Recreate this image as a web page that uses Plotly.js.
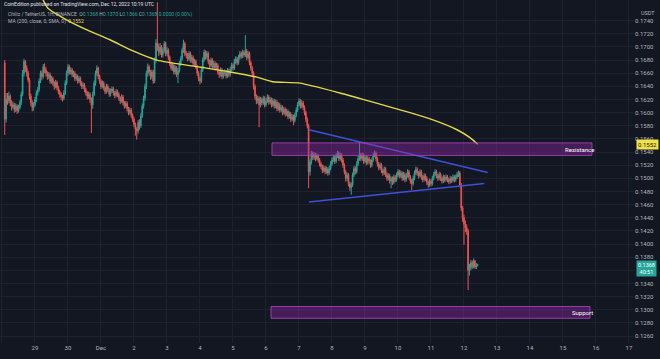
<!DOCTYPE html>
<html><head><meta charset="utf-8">
<script src="https://cdn.plot.ly/plotly-3.0.1.min.js"></script>
<style>html,body{margin:0;padding:0;background:#131722;}#chart{width:660px;height:359px;}</style>
</head><body><div id="chart"></div>
<script>
// ---- data (1H candles, Chiliz / TetherUS, Binance) ----
const firstCandleUTC = Date.UTC(2022, 10, 28, 2, 0);
const firstOpen = 0.1676;
const closes = [
0.1590,0.1620,0.1618,0.1625,0.1615,0.1609,0.1612,0.1605,0.1610,0.1603,0.1608,0.1615,
0.1628,0.1660,0.1678,0.1668,0.1660,0.1650,0.1625,0.1615,0.1608,0.1612,0.1620,0.1630,
0.1635,0.1648,0.1660,0.1655,0.1670,0.1665,0.1660,0.1655,0.1658,0.1648,0.1652,0.1645,
0.1640,0.1646,0.1638,0.1632,0.1628,0.1624,0.1622,0.1630,0.1645,0.1660,0.1670,0.1662,
0.1665,0.1658,0.1660,0.1652,0.1655,0.1648,0.1652,0.1645,0.1640,0.1642,0.1635,0.1630,
0.1625,0.1628,0.1620,0.1612,0.1628,0.1645,0.1660,0.1668,0.1655,0.1648,0.1640,0.1645,
0.1638,0.1632,0.1640,0.1635,0.1628,0.1633,0.1636,0.1630,0.1626,0.1632,0.1628,0.1622,
0.1618,0.1624,0.1615,0.1610,0.1614,0.1606,0.1600,0.1604,0.1596,0.1590,0.1582,0.1575,
0.1572,0.1585,0.1580,0.1595,0.1610,0.1622,0.1640,0.1660,0.1670,0.1662,0.1655,0.1662,
0.1648,0.1680,0.1706,0.1700,0.1692,0.1700,0.1688,0.1695,0.1705,0.1690,0.1695,0.1684,
0.1675,0.1668,0.1672,0.1662,0.1668,0.1658,0.1664,0.1675,0.1682,0.1695,0.1705,0.1690,
0.1688,0.1682,0.1690,0.1680,0.1684,0.1675,0.1678,0.1670,0.1660,0.1652,0.1648,0.1665,
0.1680,0.1692,0.1685,0.1690,0.1678,0.1672,0.1680,0.1670,0.1675,0.1668,0.1672,0.1662,
0.1658,0.1665,0.1655,0.1660,0.1662,0.1656,0.1664,0.1658,0.1666,0.1672,0.1668,0.1678,
0.1682,0.1676,0.1684,0.1690,0.1686,0.1692,0.1688,0.1694,0.1684,0.1690,0.1676,0.1668,
0.1660,0.1640,0.1625,0.1618,0.1622,0.1612,0.1620,0.1615,0.1622,0.1612,0.1618,0.1624,
0.1616,0.1620,0.1612,0.1618,0.1610,0.1616,0.1606,0.1612,0.1604,0.1608,0.1600,0.1605,
0.1598,0.1602,0.1594,0.1598,0.1590,0.1594,0.1588,0.1596,0.1604,0.1612,0.1618,0.1610,
0.1615,0.1608,0.1600,0.1590,0.1580,0.1510,0.1525,0.1538,0.1532,0.1536,0.1530,0.1534,
0.1528,0.1522,0.1518,0.1512,0.1516,0.1510,0.1514,0.1508,0.1515,0.1522,0.1528,0.1532,
0.1526,0.1534,0.1538,0.1530,0.1535,0.1528,0.1520,0.1510,0.1500,0.1505,0.1492,0.1486,
0.1490,0.1505,0.1515,0.1510,0.1522,0.1530,0.1536,0.1530,0.1535,0.1526,0.1532,0.1524,
0.1530,0.1526,0.1520,0.1528,0.1535,0.1538,0.1530,0.1522,0.1516,0.1520,0.1512,0.1508,
0.1514,0.1506,0.1500,0.1504,0.1496,0.1500,0.1494,0.1502,0.1498,0.1505,0.1510,0.1504,
0.1508,0.1500,0.1506,0.1498,0.1504,0.1510,0.1502,0.1496,0.1492,0.1500,0.1508,0.1514,
0.1508,0.1504,0.1510,0.1502,0.1498,0.1504,0.1500,0.1494,0.1490,0.1496,0.1492,0.1500,
0.1506,0.1510,0.1504,0.1500,0.1506,0.1500,0.1496,0.1502,0.1498,0.1502,0.1498,0.1495,
0.1500,0.1497,0.1502,0.1498,0.1502,0.1506,0.1508,0.1490,0.1455,0.1440,0.1430,0.1425,
0.1420,0.1360,0.1364,0.1372,0.1366,0.1374,0.1365,0.1368,0.1368
];
const highs = [
0.1680,0.1630,0.1630,0.1632,0.1628,0.1619,0.1617,0.1615,0.1614,0.1613,0.1612,0.1619,
0.1632,0.1665,0.1682,0.1680,0.1672,0.1664,0.1653,0.1629,0.1619,0.1616,0.1624,0.1634,
0.1639,0.1652,0.1664,0.1664,0.1674,0.1675,0.1669,0.1663,0.1662,0.1661,0.1656,0.1655,
0.1648,0.1650,0.1649,0.1641,0.1635,0.1631,0.1627,0.1634,0.1649,0.1664,0.1674,0.1673,
0.1669,0.1668,0.1664,0.1663,0.1659,0.1658,0.1656,0.1655,0.1648,0.1646,0.1645,0.1638,
0.1633,0.1632,0.1631,0.1623,0.1632,0.1649,0.1664,0.1672,0.1670,0.1658,0.1651,0.1649,
0.1648,0.1641,0.1644,0.1643,0.1638,0.1637,0.1640,0.1639,0.1633,0.1636,0.1635,0.1631,
0.1625,0.1628,0.1627,0.1618,0.1618,0.1617,0.1609,0.1608,0.1607,0.1599,0.1593,0.1585,
0.1578,0.1589,0.1590,0.1599,0.1614,0.1626,0.1644,0.1664,0.1675,0.1673,0.1665,0.1666,
0.1665,0.1684,0.1712,0.1768,0.1705,0.1706,0.1703,0.1699,0.1709,0.1708,0.1700,0.1698,
0.1687,0.1678,0.1676,0.1675,0.1672,0.1671,0.1668,0.1679,0.1686,0.1699,0.1711,0.1708,
0.1694,0.1691,0.1694,0.1693,0.1688,0.1687,0.1682,0.1681,0.1673,0.1663,0.1655,0.1669,
0.1684,0.1696,0.1695,0.1694,0.1693,0.1681,0.1684,0.1683,0.1679,0.1678,0.1676,0.1675,
0.1665,0.1669,0.1668,0.1664,0.1666,0.1665,0.1668,0.1667,0.1670,0.1676,0.1675,0.1682,
0.1686,0.1685,0.1688,0.1694,0.1693,0.1696,0.1695,0.1718,0.1697,0.1694,0.1693,0.1679,
0.1671,0.1663,0.1643,0.1628,0.1626,0.1625,0.1624,0.1623,0.1626,0.1625,0.1622,0.1628,
0.1627,0.1624,0.1623,0.1622,0.1621,0.1620,0.1619,0.1616,0.1615,0.1612,0.1611,0.1609,
0.1608,0.1606,0.1605,0.1602,0.1601,0.1598,0.1597,0.1600,0.1608,0.1616,0.1622,0.1621,
0.1619,0.1618,0.1611,0.1603,0.1593,0.1583,0.1529,0.1542,0.1541,0.1540,0.1539,0.1538,
0.1537,0.1531,0.1525,0.1521,0.1520,0.1519,0.1518,0.1517,0.1519,0.1526,0.1532,0.1536,
0.1535,0.1538,0.1542,0.1541,0.1539,0.1538,0.1531,0.1523,0.1513,0.1509,0.1508,0.1495,
0.1494,0.1509,0.1519,0.1518,0.1526,0.1534,0.1555,0.1539,0.1539,0.1538,0.1536,0.1535,
0.1534,0.1533,0.1529,0.1532,0.1539,0.1542,0.1541,0.1533,0.1525,0.1524,0.1523,0.1515,
0.1518,0.1517,0.1509,0.1508,0.1507,0.1503,0.1503,0.1506,0.1505,0.1509,0.1514,0.1513,
0.1512,0.1511,0.1510,0.1509,0.1508,0.1514,0.1513,0.1505,0.1499,0.1504,0.1512,0.1518,
0.1517,0.1511,0.1514,0.1513,0.1505,0.1508,0.1507,0.1503,0.1497,0.1500,0.1499,0.1504,
0.1510,0.1514,0.1513,0.1507,0.1510,0.1509,0.1503,0.1506,0.1505,0.1506,0.1505,0.1501,
0.1504,0.1503,0.1506,0.1505,0.1506,0.1510,0.1512,0.1511,0.1493,0.1458,0.1445,0.1436,
0.1430,0.1423,0.1370,0.1376,0.1375,0.1378,0.1376,0.1371,0.1370
];
const lows = [
0.1566,0.1585,0.1612,0.1614,0.1610,0.1603,0.1605,0.1600,0.1601,0.1598,0.1600,0.1605,
0.1612,0.1625,0.1655,0.1662,0.1655,0.1646,0.1620,0.1610,0.1602,0.1603,0.1609,0.1616,
0.1626,0.1632,0.1645,0.1650,0.1652,0.1660,0.1655,0.1650,0.1651,0.1644,0.1644,0.1641,
0.1635,0.1637,0.1634,0.1628,0.1623,0.1619,0.1617,0.1619,0.1627,0.1642,0.1656,0.1658,
0.1658,0.1654,0.1654,0.1648,0.1649,0.1644,0.1645,0.1641,0.1636,0.1636,0.1631,0.1626,
0.1620,0.1621,0.1615,0.1569,0.1606,0.1625,0.1641,0.1656,0.1651,0.1644,0.1636,0.1637,
0.1634,0.1628,0.1629,0.1631,0.1624,0.1625,0.1630,0.1626,0.1622,0.1623,0.1624,0.1618,
0.1613,0.1615,0.1611,0.1606,0.1607,0.1602,0.1596,0.1597,0.1592,0.1586,0.1578,0.1565,
0.1559,0.1568,0.1574,0.1577,0.1592,0.1606,0.1618,0.1636,0.1655,0.1657,0.1650,0.1651,
0.1644,0.1645,0.1676,0.1694,0.1686,0.1688,0.1684,0.1684,0.1691,0.1686,0.1686,0.1680,
0.1671,0.1664,0.1664,0.1658,0.1658,0.1654,0.1645,0.1661,0.1671,0.1679,0.1691,0.1686,
0.1683,0.1678,0.1679,0.1676,0.1676,0.1671,0.1671,0.1666,0.1656,0.1648,0.1643,0.1645,
0.1662,0.1677,0.1681,0.1681,0.1674,0.1668,0.1669,0.1666,0.1667,0.1664,0.1665,0.1658,
0.1653,0.1655,0.1651,0.1652,0.1656,0.1652,0.1653,0.1654,0.1655,0.1663,0.1664,0.1665,
0.1674,0.1672,0.1673,0.1681,0.1682,0.1683,0.1684,0.1685,0.1680,0.1681,0.1672,0.1664,
0.1655,0.1635,0.1620,0.1613,0.1614,0.1578,0.1608,0.1611,0.1612,0.1608,0.1609,0.1615,
0.1612,0.1613,0.1608,0.1609,0.1606,0.1607,0.1602,0.1603,0.1600,0.1601,0.1596,0.1597,
0.1594,0.1595,0.1590,0.1591,0.1586,0.1587,0.1581,0.1585,0.1593,0.1601,0.1609,0.1606,
0.1607,0.1604,0.1596,0.1586,0.1576,0.1485,0.1504,0.1521,0.1528,0.1528,0.1526,0.1527,
0.1524,0.1518,0.1514,0.1508,0.1509,0.1506,0.1507,0.1504,0.1505,0.1512,0.1519,0.1525,
0.1522,0.1523,0.1531,0.1526,0.1527,0.1524,0.1516,0.1506,0.1495,0.1496,0.1488,0.1481,
0.1475,0.1487,0.1502,0.1506,0.1507,0.1519,0.1527,0.1526,0.1527,0.1522,0.1523,0.1520,
0.1521,0.1522,0.1516,0.1517,0.1525,0.1532,0.1526,0.1518,0.1512,0.1513,0.1508,0.1504,
0.1505,0.1502,0.1496,0.1497,0.1492,0.1485,0.1490,0.1491,0.1494,0.1495,0.1502,0.1500,
0.1501,0.1496,0.1497,0.1494,0.1495,0.1501,0.1498,0.1492,0.1482,0.1489,0.1497,0.1505,
0.1504,0.1500,0.1501,0.1498,0.1494,0.1495,0.1496,0.1490,0.1486,0.1487,0.1488,0.1489,
0.1497,0.1503,0.1500,0.1496,0.1497,0.1496,0.1492,0.1493,0.1494,0.1495,0.1494,0.1491,
0.1492,0.1493,0.1494,0.1494,0.1495,0.1499,0.1502,0.1486,0.1450,0.1434,0.1399,0.1418,
0.1414,0.1330,0.1352,0.1360,0.1362,0.1363,0.1362,0.1362,0.1366
];
// MA(200)
const maTimes = ['2022-11-29 05:05','2022-11-29 09:27','2022-11-29 23:16','2022-11-30 13:49','2022-12-01 06:33','2022-12-01 23:16','2022-12-02 16:44','2022-12-03 21:49','2022-12-04 21:49','2022-12-05 17:27','2022-12-06 05:05','2022-12-07 00:44','2022-12-08 05:49','2022-12-09 05:49','2022-12-10 08:44','2022-12-11 01:27','2022-12-11 18:55','2022-12-12 04:22','2022-12-12 10:00'];
const maValues = [0.1775,0.1759,0.1741,0.1726,0.1711,0.1694,0.1680,0.1670,0.1662,0.1654,0.1647,0.1645,0.1630,0.1616,0.1600,0.1589,0.1574,0.1562,0.1552];
// triangle trendlines
const upperLineTimes = ['2022-12-07 07:16','2022-12-12 17:14'];
const upperLineValues = [0.1574, 0.1509];
const lowerLineTimes = ['2022-12-07 07:16','2022-12-12 14:45'];
const lowerLineValues = [0.1464, 0.1492];
// zones
const resistanceZone = {t0:'2022-12-06 04:22', t1:'2022-12-15 21:05', lo:0.1535, hi:0.1554, label:'Resistance'};
const supportZone = {t0:'2022-12-06 03:38', t1:'2022-12-15 19:38', lo:0.1287, hi:0.1305, label:'Support'};
// axis ticks (0.1360 label is hidden behind the last-price tag)
const priceTicks = [0.1260,0.1280,0.1300,0.1320,0.1340,0.1360,0.1380,0.1400,0.1420,0.1440,0.1460,0.1480,0.1500,0.1520,0.1540,0.1560,0.1580,0.1600,0.1620,0.1640,0.1660,0.1680,0.1700,0.1720,0.1740];
const hiddenPriceLabels = [0.1360];
const dayTicks = ['2022-11-28','2022-11-29','2022-11-30','2022-12-01','2022-12-02','2022-12-03','2022-12-04','2022-12-05','2022-12-06','2022-12-07','2022-12-08','2022-12-09','2022-12-10','2022-12-11','2022-12-12','2022-12-13','2022-12-14','2022-12-15','2022-12-16','2022-12-17'];
const dayLabels = ['28','29','30','Dec','2','3','4','5','6','7','8','9','10','11','12','13','14','15','16','17'];
const lastPrice = 0.1368, maLast = 0.1552, countdown = '40:51';

// ---- build ----
function fmt(ms){ return new Date(ms).toISOString().slice(0,16).replace('T',' '); }
const times = closes.map((_, i) => fmt(firstCandleUTC + i*3600000));
const opens = closes.map((c, i) => i === 0 ? firstOpen : closes[i-1]);

const UP = '#26a69a', DOWN = '#ef5350';
const traces = [
  {type:'candlestick', x:times, open:opens, high:highs, low:lows, close:closes,
   increasing:{line:{color:UP,width:1}, fillcolor:UP},
   decreasing:{line:{color:DOWN,width:1}, fillcolor:DOWN},
   whiskerwidth:0, hoverinfo:'skip', showlegend:false},
  {type:'scatter', mode:'lines', x:maTimes, y:maValues, line:{color:'#e3d84a', width:1.4, shape:'spline', smoothing:0.6}, hoverinfo:'skip', showlegend:false},
  {type:'scatter', mode:'lines', x:upperLineTimes, y:upperLineValues, line:{color:'#3f51d6', width:1.5}, hoverinfo:'skip', showlegend:false},
  {type:'scatter', mode:'lines', x:lowerLineTimes, y:lowerLineValues, line:{color:'#3f51d6', width:1.5}, hoverinfo:'skip', showlegend:false}
];

function zoneShape(z){
  return {type:'rect', xref:'x', yref:'y', x0:z.t0, x1:z.t1, y0:z.lo, y1:z.hi,
    fillcolor:'rgba(156,39,176,0.38)', line:{color:'rgba(171,71,188,0.85)', width:1}, layer:'above'};
}
function zoneLabel(z, t){
  return {xref:'x', yref:'y', x:t, y:(z.lo+z.hi)/2, text:z.label, showarrow:false,
    font:{size:6, color:'#ffffff'}, xanchor:'center', yanchor:'middle'};
}
const hdrGrey = '#b2b5be';
const g = s => '<span style="color:'+UP+'">'+s+'</span>';
const annotations = [
  zoneLabel(resistanceZone, '2022-12-15 12:00'),
  zoneLabel(supportZone, '2022-12-15 14:00'),
  {xref:'paper', yref:'paper', x:0, y:1, xshift:2, yshift:-4, xanchor:'left', yanchor:'middle', showarrow:false,
   text:'CoinEdition published on TradingView.com, Dec 12, 2022 10:19 UTC', font:{size:5, color:'#e0e3eb'}},
  {xref:'paper', yref:'paper', x:0, y:1, xshift:6, yshift:-14.5, xanchor:'left', yanchor:'middle', showarrow:false,
   text:'Chiliz / TetherUS, 1H, BINANCE  O'+g('0.1368')+' H'+g('0.1370')+' L'+g('0.1366')+' C'+g('0.1368')+' '+g('0.0000 (0.00%)'), font:{size:5, color:hdrGrey}},
  {xref:'paper', yref:'paper', x:0, y:1, xshift:6, yshift:-21, xanchor:'left', yanchor:'middle', showarrow:false,
   text:'MA (200, close, 0, SMA, 0)  <span style="color:#e3d84a">'+maLast.toFixed(4)+'</span>', font:{size:5, color:hdrGrey}},
  {xref:'paper', yref:'paper', x:1, y:1, xshift:5, yshift:-13, xanchor:'left', yanchor:'middle', showarrow:false,
   text:'USDT', font:{size:5.5, color:hdrGrey}},
  {xref:'paper', yref:'y', x:1, y:maLast, xshift:2, xanchor:'left', yanchor:'middle', showarrow:false,
   text:maLast.toFixed(4), font:{size:6, color:'#131722'}, bgcolor:'#f2e24a', borderpad:1},
  {xref:'paper', yref:'y', x:1, y:lastPrice, xshift:2, yshift:-3, xanchor:'left', yanchor:'middle', showarrow:false,
   text:lastPrice.toFixed(4)+'<br>'+countdown, font:{size:5.5, color:'#ffffff'}, bgcolor:UP, borderpad:1}
];

const layout = {
  width:660, height:359,
  margin:{l:0, r:26, t:0, b:16, pad:0},
  paper_bgcolor:'#131722', plot_bgcolor:'#131722',
  font:{family:'Roboto, Arial, sans-serif', color:hdrGrey},
  showlegend:false,
  xaxis:{type:'date', range:['2022-11-27 22:33','2022-12-17 03:39'],
    tickmode:'array', tickvals:dayTicks, ticktext:dayLabels,
    showgrid:true, gridcolor:'#1d2130', gridwidth:1, zeroline:false, showline:false, ticks:'',
    tickfont:{size:6, color:hdrGrey}, rangeslider:{visible:false}, fixedrange:true},
  yaxis:{side:'right', range:[0.12494, 0.17715], tickmode:'array', tickvals:priceTicks,
    ticktext:priceTicks.map(v => hiddenPriceLabels.includes(v) ? '' : v.toFixed(4)),
    showgrid:true, gridcolor:'#1d2130', gridwidth:1, zeroline:false, showline:false, ticks:'',
    tickfont:{size:6, color:hdrGrey}, fixedrange:true},
  shapes:[zoneShape(resistanceZone), zoneShape(supportZone)],
  annotations:annotations
};
Plotly.newPlot('chart', traces, layout, {staticPlot:true, displayModeBar:false});
</script>
</body></html>
